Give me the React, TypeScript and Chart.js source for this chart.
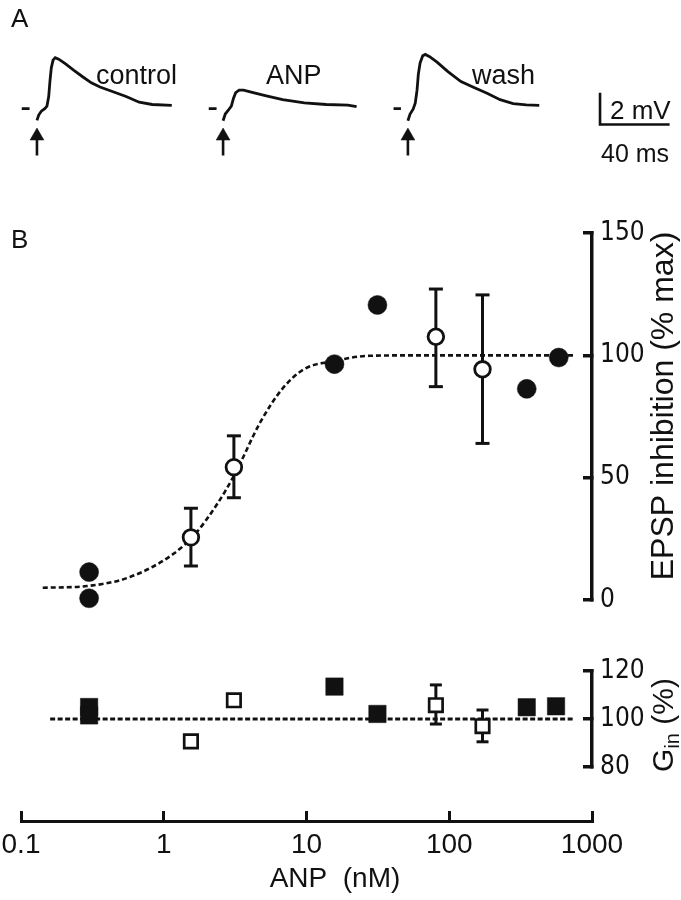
import React, { useEffect, useRef } from "react";
import { Chart, registerables } from "chart.js";

Chart.register(...registerables);

// ---------------- DATA ----------------
// Panel A: EPSP traces (time in ms on a shared time base, potential in mV)
const controlT = [6.75, 11.25, 13, 15.5, 16.5, 18, 20, 21.25, 22.25, 23, 23.75, 24.75, 26, 28, 31.75, 36.75, 41.75, 46.75, 51.75, 59.25, 66.75, 74.25, 81.75, 93];
const controlV = [0, 0, null, -0.74, -0.4, -0.16, 0.0, 0.16, 0.76, 1.76, 2.56, 3.04, 3.2, 3.1, 2.82, 2.4, 2.0, 1.62, 1.36, 1.06, 0.76, 0.4, 0.26, 0.2];
const anpT = [114.25, 118.75, 120, 122.5, 123.75, 125.5, 127.25, 128.5, 129.75, 131.75, 134.25, 139.25, 146.75, 156.75, 169.25, 181.75, 194.25, 199.25];
const anpV = [0, 0, null, -0.76, -0.34, -0.1, 0.16, 0.66, 1.0, 1.16, 1.16, 1.02, 0.82, 0.56, 0.36, 0.26, 0.22, 0.12];
const washT = [220.5, 224.75, 226, 228.75, 230, 231.75, 233, 234, 234.75, 235.75, 237.25, 238.75, 241.25, 245.5, 251.75, 259.25, 266.75, 274.25, 281.75, 289.25, 296.75, 304.25];
const washV = [0, 0, null, -0.76, -0.34, -0.04, 0.36, 1.16, 2.16, 2.86, 3.32, 3.4, 3.26, 2.92, 2.32, 1.7, 1.32, 0.96, 0.56, 0.32, 0.24, 0.2];
const stimT = [15.5, 122.5, 228.75];
const stimHeadV = -1.72;
const stimTailV = -2.94;
const scaleBarT = [339.2, 339.2, 379.2]; // 40 ms
const scaleBarV = [1, -1, -1]; // 2 mV

// Panel B (top): EPSP inhibition (% max) vs ANP (nM)
const filledX = [0.3, 0.3, 15.7, 31.4, 349, 585];
const filledY = [11.4, 0.7, 96.4, 120.6, 86.3, 99.1];
const openX = [1.55, 3.1, 80.6, 171];
const openY = [25.6, 54.3, 107.6, 94.3];
const openHi = [37.5, 67.1, 127.1, 124.7];
const openLo = [13.9, 41.8, 87.2, 64.0];
const fitX = [0.142, 0.29, 0.58, 1.17, 1.66, 2.36, 3.13, 4.76, 6.77, 9.6, 15.7, 27.4, 60, 753];
const fitY = [5.0, 5.7, 9.4, 18.9, 27, 39.1, 51.2, 72.8, 86.3, 94.3, 97.7, 99.8, 100, 100];
const epspTicks = [0, 50, 100, 150];

// Panel B (bottom): G_in (%)
const gFilledX = [0.3, 0.3, 15.7, 31.4, 349, 560];
const gFilledY = [105, 101.5, 113.5, 102.1, 104.9, 105.3];
const gOpenX = [1.55, 3.1, 80.6, 171];
const gOpenY = [90.7, 107.8, 105.75, 97];
const gOpenHi = [null, null, 114.2, 103.75];
const gOpenLo = [null, null, 97.9, 90.5];
const gLineX = [0.16, 733];
const gLineY = [100, 100];
const ginTicks = [80, 100, 120];

const anpTicks = [0.1, 1, 10, 100, 1000];

// ---------------- STYLE ----------------
const INK = "#111111";
const FONT = "'Liberation Sans', Arial, Helvetica, sans-serif";
const NARROW = "'Liberation Sans Narrow', 'Arial Narrow', 'DejaVu Sans Condensed', 'Liberation Sans', sans-serif";

const pts = (xs: number[], ys: (number | null)[]) => xs.map((x, i) => ({ x, y: ys[i] }));

type Txt = { s: string; x: number; y: number; size: number; family?: string; align?: CanvasTextAlign; baseline?: CanvasTextBaseline; rot?: number };

const textPlugin = (id: string, items: Txt[], extra?: (ctx: CanvasRenderingContext2D) => void) => ({
  id,
  afterDraw(chart: any) {
    const ctx: CanvasRenderingContext2D = chart.ctx;
    ctx.save();
    ctx.fillStyle = INK;
    for (const t of items) {
      ctx.save();
      ctx.translate(t.x, t.y);
      if (t.rot) ctx.rotate(t.rot);
      ctx.font = `${t.size}px ${t.family || FONT}`;
      ctx.textAlign = t.align || "left";
      ctx.textBaseline = t.baseline || "alphabetic";
      ctx.fillText(t.s, 0, 0);
      ctx.restore();
    }
    if (extra) extra(ctx);
    ctx.restore();
  },
});

const lineDs = (data: any[], extra: any = {}) => ({
  data,
  showLine: true,
  borderColor: INK,
  borderWidth: 2.8,
  pointRadius: 0,
  tension: 0,
  spanGaps: false,
  clip: false,
  ...extra,
});

const errBars = (xs: number[], lo: (number | null)[], hi: (number | null)[], cap: number) =>
  xs
    .map((x, i) =>
      lo[i] == null || hi[i] == null
        ? null
        : {
            data: [
              { x, y: lo[i] },
              { x, y: hi[i] },
            ],
            showLine: true,
            borderColor: INK,
            borderWidth: 3,
            pointStyle: "line",
            pointRadius: cap / 2,
            pointBorderWidth: 3,
            pointBorderColor: INK,
            pointBackgroundColor: INK,
            order: 2,
            clip: false,
          }
    )
    .filter(Boolean);

const rightAxis = (min: number, max: number, ticks: number[]) => ({
  type: "linear",
  position: "right",
  min,
  max,
  afterBuildTicks: (s: any) => {
    s.ticks = ticks.map((v) => ({ value: v }));
  },
  afterFit: (s: any) => {
    s.width = 60;
    s.paddingTop = 0;
    s.paddingBottom = 0;
  },
  ticks: {
    color: INK,
    padding: 17,
    font: { size: 26, family: NARROW, lineHeight: 1 },
    callback: (v: any) => String(v),
  },
  grid: { drawOnChartArea: false, tickLength: -9, lineWidth: 3.5, color: INK },
  border: { color: INK, width: 3.5 },
});

function useChart(makeConfig: () => any) {
  const ref = useRef<HTMLCanvasElement>(null);
  useEffect(() => {
    if (!ref.current) return;
    const chart = new Chart(ref.current, makeConfig());
    return () => chart.destroy();
  }, []);
  return ref;
}

const baseOptions = {
  animation: false,
  responsive: false,
  devicePixelRatio: 1,
  plugins: { legend: { display: false }, tooltip: { enabled: false } },
};

function PanelA() {
  const ref = useChart(() => ({
    type: "scatter",
    data: {
      datasets: [
        lineDs(pts(controlT, controlV)),
        lineDs(pts(anpT, anpV)),
        lineDs(pts(washT, washV)),
        ...stimT.map((t) => lineDs([{ x: t, y: stimHeadV - 0.2 }, { x: t, y: stimTailV }], { borderWidth: 2.6 })),
        {
          data: stimT.map((t) => ({ x: t, y: stimHeadV })),
          pointStyle: "triangle",
          pointRadius: 8,
          pointBackgroundColor: INK,
          pointBorderColor: INK,
          pointBorderWidth: 0.5,
          clip: false,
        },
        lineDs(pts(scaleBarT, scaleBarV), { borderWidth: 2.6 }),
      ],
    },
    options: {
      ...baseOptions,
      layout: { padding: { left: 10, right: 10, top: 13, bottom: 0 } },
      scales: {
        x: { type: "linear", min: 0, max: 380, display: false },
        y: { type: "linear", min: -5.2, max: 6, display: false },
      },
    },
    plugins: [
      textPlugin("textsA", [
        { s: "A", x: 11, y: 27, size: 26 },
        { s: "control", x: 96, y: 84, size: 27 },
        { s: "ANP", x: 266, y: 84, size: 27 },
        { s: "wash", x: 472, y: 84, size: 27 },
        { s: "2 mV", x: 610, y: 119, size: 26 },
        { s: "40 ms", x: 601, y: 162, size: 25 },
      ]),
    ],
  }));
  return <canvas ref={ref} width={681} height={200} style={{ position: "absolute", left: 0, top: 0, display: "block" }} />;
}

function PanelBTop() {
  const ref = useChart(() => ({
    type: "scatter",
    data: {
      datasets: [
        {
          data: pts(filledX, filledY),
          pointStyle: "circle",
          pointRadius: 9.5,
          pointBackgroundColor: INK,
          pointBorderColor: INK,
          pointBorderWidth: 0.5,
          order: 0,
          clip: false,
        },
        {
          data: pts(openX, openY),
          pointStyle: "circle",
          pointRadius: 7.8,
          pointBackgroundColor: "#ffffff",
          pointBorderColor: INK,
          pointBorderWidth: 2.8,
          order: 0,
          clip: false,
        },
        ...errBars(openX, openLo, openHi, 14),
        lineDs(pts(fitX, fitY), { borderWidth: 2.6, borderDash: [5, 3], cubicInterpolationMode: "monotone", order: 3 }),
      ],
    },
    options: {
      ...baseOptions,
      layout: { padding: { left: 21, right: 29, top: 23, bottom: 20 } },
      scales: {
        x: { type: "logarithmic", min: 0.1, max: 1000, display: false },
        y: rightAxis(0, 150, epspTicks),
      },
    },
    plugins: [
      textPlugin("textsB1", [
        { s: "B", x: 11, y: 38, size: 26 },
        { s: "EPSP inhibition (% max)", x: 664, y: 196, size: 32, align: "center", baseline: "middle", rot: -Math.PI / 2 },
      ]),
    ],
  }));
  return <canvas ref={ref} width={681} height={410} style={{ position: "absolute", left: 0, top: 210, display: "block" }} />;
}

function PanelBBottom() {
  const ref = useChart(() => ({
    type: "scatter",
    data: {
      datasets: [
        {
          data: pts(gFilledX, gFilledY),
          pointStyle: "rect",
          pointRadius: 12.3,
          pointBackgroundColor: INK,
          pointBorderColor: INK,
          pointBorderWidth: 0.5,
          order: 0,
          clip: false,
        },
        {
          data: pts(gOpenX, gOpenY),
          pointStyle: "rect",
          pointRadius: 9.5,
          pointBackgroundColor: "#ffffff",
          pointBorderColor: INK,
          pointBorderWidth: 2.7,
          order: 0,
          clip: false,
        },
        ...errBars(gOpenX, gOpenLo, gOpenHi, 12),
        lineDs(pts(gLineX, gLineY), { borderWidth: 3, borderDash: [5, 2.5], order: 3 }),
      ],
    },
    options: {
      ...baseOptions,
      layout: { padding: { left: 21, right: 29, top: 31, bottom: 23 } },
      scales: {
        x: { type: "logarithmic", min: 0.1, max: 1000, display: false },
        y: rightAxis(80, 120, ginTicks),
      },
    },
    plugins: [
      textPlugin("textsB2", [], (ctx) => {
        // rotated "G_in (%)" with subscript
        ctx.save();
        ctx.translate(663, 85);
        ctx.rotate(-Math.PI / 2);
        ctx.fillStyle = INK;
        ctx.textBaseline = "alphabetic";
        ctx.textAlign = "left";
        const big = `30px ${FONT}`;
        const small = `20px ${FONT}`;
        ctx.font = big;
        const wG = ctx.measureText("G").width;
        const wP = ctx.measureText(" (%)").width;
        ctx.font = small;
        const wIn = ctx.measureText("in").width;
        const total = wG + wIn + wP;
        let x = -total / 2;
        const base = 10;
        ctx.font = big;
        ctx.fillText("G", x, base);
        x += wG;
        ctx.font = small;
        ctx.fillText("in", x, base + 6);
        x += wIn;
        ctx.font = big;
        ctx.fillText(" (%)", x, base);
        ctx.restore();
      }),
    ],
  }));
  return <canvas ref={ref} width={681} height={150} style={{ position: "absolute", left: 0, top: 640, display: "block" }} />;
}

function PanelBAxis() {
  const ref = useChart(() => ({
    type: "scatter",
    data: { datasets: [] },
    options: {
      ...baseOptions,
      layout: { padding: { left: 21, right: 89, top: 20, bottom: 0 } },
      scales: {
        x: {
          type: "logarithmic",
          position: "bottom",
          min: 0.1,
          max: 1000,
          afterBuildTicks: (s: any) => {
            s.ticks = anpTicks.map((v) => ({ value: v }));
          },
          afterFit: (s: any) => {
            s.height = 79;
            s.paddingLeft = 0;
            s.paddingRight = 0;
          },
          ticks: {
            color: INK,
            padding: 17,
            autoSkip: false,
            maxRotation: 0,
            font: { size: 28, family: FONT },
            callback: (v: any) => String(v),
          },
          grid: { drawOnChartArea: false, tickLength: -10, lineWidth: 3, color: INK },
          border: { color: INK, width: 3 },
        },
        y: { type: "linear", display: false, min: 0, max: 1 },
      },
    },
    plugins: [textPlugin("textsB3", [{ s: "ANP  (nM)", x: 335, y: 97, size: 28, align: "center" }])],
  }));
  return <canvas ref={ref} width={681} height={110} style={{ position: "absolute", left: 0, top: 790, display: "block" }} />;
}

export default function App() {
  return (
    <div style={{ position: "absolute", left: 0, top: 0, width: 681, height: 900, background: "#ffffff", overflow: "hidden" }}>
      <PanelA />
      <PanelBTop />
      <PanelBBottom />
      <PanelBAxis />
    </div>
  );
}
